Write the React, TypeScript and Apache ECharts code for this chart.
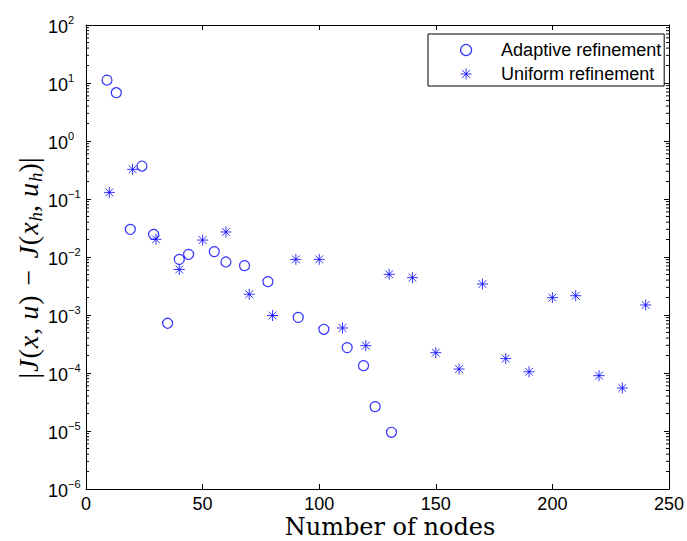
import React, { useEffect, useRef } from "react";
import * as echarts from "echarts";

// ---- data ----
const ADAPTIVE_NODES = [9, 13, 19, 24, 29, 35, 40, 44, 55, 60, 68, 78, 91, 102, 112, 119, 124, 131];
const ADAPTIVE_ERR = [11.2, 6.8, 0.03, 0.37, 0.0246, 0.00072, 0.0091, 0.0111, 0.0124, 0.0082, 0.0071, 0.00376, 0.00091, 0.000567, 0.000274, 0.000134, 2.63e-5, 9.5e-6];

const UNIFORM_NODES = [10, 20, 30, 40, 50, 60, 70, 80, 90, 100, 110, 120, 130, 140, 150, 160, 170, 180, 190, 200, 210, 220, 230, 240];
const UNIFORM_ERR = [0.13, 0.325, 0.0202, 0.0061, 0.0196, 0.027, 0.00228, 0.00098, 0.0091, 0.0091, 0.000597, 0.000296, 0.00503, 0.0044, 0.000224, 0.000117, 0.00342, 0.000177, 0.000105, 0.00199, 0.00215, 9.0e-5, 5.5e-5, 0.00149];

const X_MIN = 0;
const X_MAX = 250;
const X_INTERVAL = 50;
const Y_MIN = 1e-6;
const Y_MAX = 1e2;

// log-axis minor tick positions (2..9 within each decade)
const MINOR_MANTISSAS = [2, 3, 4, 5, 6, 7, 8, 9];
const MINOR_DECADES = [-6, -5, -4, -3, -2, -1, 0, 1];

const SERIES_ADAPTIVE = "Adaptive refinement";
const SERIES_UNIFORM = "Uniform refinement";

const BLUE = "#0000ff";
const STAR = "path://M5 0L5 10M0 5L10 5M1.46 1.46L8.54 8.54M1.46 8.54L8.54 1.46";
const SANS = "'Liberation Sans', Arial, Helvetica, sans-serif";
const SERIF = "'Liberation Serif', 'Times New Roman', serif";
const SERIF_WIDE = "'DejaVu Serif', serif";

export default function App() {
  const ref = useRef<HTMLDivElement>(null);

  useEffect(() => {
    if (!ref.current) return;
    const chart = echarts.init(ref.current, null, { renderer: "svg" });

    const minorTicks: number[][] = [];
    MINOR_DECADES.forEach((d) =>
      MINOR_MANTISSAS.forEach((m) => minorTicks.push([X_MIN, m * Math.pow(10, d)]))
    );

    const adaptive = ADAPTIVE_NODES.map((x, i) => [x, ADAPTIVE_ERR[i]]);
    const uniform = UNIFORM_NODES.map((x, i) => [x, UNIFORM_ERR[i]]);

    const yLabelFormatter = (v: number) => {
      const e = Math.round(Math.log10(v));
      const s = e < 0 ? "\u2212" + -e : String(e);
      return "{b|10}{s|" + s + "}";
    };

    const yAxisBase = {
      type: "log",
      logBase: 10,
      min: Y_MIN,
      max: Y_MAX,
      splitNumber: 8,
      splitLine: { show: false },
      axisLine: { show: true, onZero: false, lineStyle: { color: "#000", width: 1 } },
      axisTick: { show: true, inside: true, length: 5, lineStyle: { color: "#000" } },
    };

    const xAxisBase = {
      type: "value",
      min: X_MIN,
      max: X_MAX,
      interval: X_INTERVAL,
      splitLine: { show: false },
      axisLine: { show: true, onZero: false, lineStyle: { color: "#000", width: 1 } },
      axisTick: { show: true, inside: true, length: 5, lineStyle: { color: "#000" } },
    };

    const yTitle =
      "{n||}{i|J}{n|(}{i|x}{n|, }{i|u}{n|)}{m|\u2212}{i|J}{n|(}{i|x}{h|h}{n|, }{i|u}{h|h}{n|)}{n||}";

    chart.setOption({
      animation: false,
      backgroundColor: "#fff",
      grid: { left: 86, right: 15, top: 25, bottom: 52, show: false },
      xAxis: [
        {
          ...xAxisBase,
          position: "bottom",
          axisLabel: { show: true, margin: 6, fontSize: 18, lineHeight: 17, fontFamily: SANS, color: "#000" },
        },
        {
          ...xAxisBase,
          position: "top",
          axisLabel: { show: false },
        },
      ],
      yAxis: [
        {
          ...yAxisBase,
          position: "left",
          axisLabel: {
            show: true,
            align: "left",
            margin: 38,
            formatter: yLabelFormatter,
            rich: {
              b: { fontSize: 18, fontFamily: SANS, color: "#000", lineHeight: 22, verticalAlign: "bottom" },
              s: { fontSize: 11, fontFamily: SANS, color: "#000", lineHeight: 22, verticalAlign: "top" },
            },
          },
        },
        {
          ...yAxisBase,
          position: "right",
          axisLabel: { show: false },
        },
      ],
      legend: {
        orient: "vertical",
        left: 428,
        top: 34,
        padding: [7, 3, 3, 32],
        itemWidth: 60,
        itemHeight: 11,
        itemGap: 6,
        borderColor: "#000",
        borderWidth: 1,
        borderRadius: 0,
        backgroundColor: "#fff",
        selectedMode: false,
        textStyle: { fontSize: 18, lineHeight: 18, fontFamily: SANS, color: "#000" },
        data: [
          {
            name: SERIES_ADAPTIVE,
            icon: "circle",
            itemStyle: { color: "transparent", borderColor: BLUE, borderWidth: 1.2 },
          },
          {
            name: SERIES_UNIFORM,
            icon: STAR,
            itemStyle: { color: "transparent", borderColor: BLUE, borderWidth: 1 },
          },
        ],
      },
      graphic: [
        {
          type: "text",
          x: 390,
          y: 527,
          style: {
            text: "Number of nodes",
            fontSize: 24,
            lineHeight: 24,
            fontFamily: SERIF_WIDE,
            fill: "#000",
            align: "center",
            verticalAlign: "middle",
          },
        },
        {
          type: "text",
          x: 28,
          y: 268,
          rotation: Math.PI / 2,
          style: {
            text: yTitle,
            align: "center",
            verticalAlign: "middle",
            rich: {
              n: { fontSize: 28, fontFamily: SERIF, fill: "#000", lineHeight: 34, verticalAlign: "middle" },
              m: { fontSize: 28, fontFamily: SERIF, fill: "#000", lineHeight: 34, verticalAlign: "middle", padding: [0, 10, 0, 10] },
              i: { fontSize: 28, fontFamily: SERIF, fontStyle: "italic", fill: "#000", lineHeight: 34, verticalAlign: "middle", padding: [0, 1, 0, 1] },
              h: { fontSize: 19, fontFamily: SERIF, fontStyle: "italic", fill: "#000", lineHeight: 34, verticalAlign: "bottom" },
            },
          },
        },
      ],
      series: [
        {
          type: "custom",
          name: "_minor",
          silent: true,
          xAxisIndex: 0,
          yAxisIndex: 0,
          data: minorTicks,
          renderItem: (params: any, api: any) => {
            const v = api.value(1);
            const l = api.coord([X_MIN, v]);
            const r = api.coord([X_MAX, v]);
            return {
              type: "group",
              children: [
                { type: "line", shape: { x1: l[0], y1: l[1], x2: l[0] + 3, y2: l[1] }, style: { stroke: "#000", lineWidth: 1 } },
                { type: "line", shape: { x1: r[0] - 3, y1: r[1], x2: r[0], y2: r[1] }, style: { stroke: "#000", lineWidth: 1 } },
              ],
            };
          },
        },
        {
          type: "scatter",
          name: SERIES_ADAPTIVE,
          data: adaptive,
          symbol: "circle",
          symbolSize: 10,
          itemStyle: { color: "transparent", borderColor: BLUE, borderWidth: 1.2 },
          emphasis: { disabled: true },
        },
        {
          type: "scatter",
          name: SERIES_UNIFORM,
          data: uniform,
          symbol: STAR,
          symbolSize: 11,
          itemStyle: { color: "transparent", borderColor: BLUE, borderWidth: 1 },
          emphasis: { disabled: true },
        },
      ],
    });

    return () => chart.dispose();
  }, []);

  return (
    <div
      ref={ref}
      style={{ position: "fixed", left: 0, top: 0, width: 687, height: 541 }}
    />
  );
}
